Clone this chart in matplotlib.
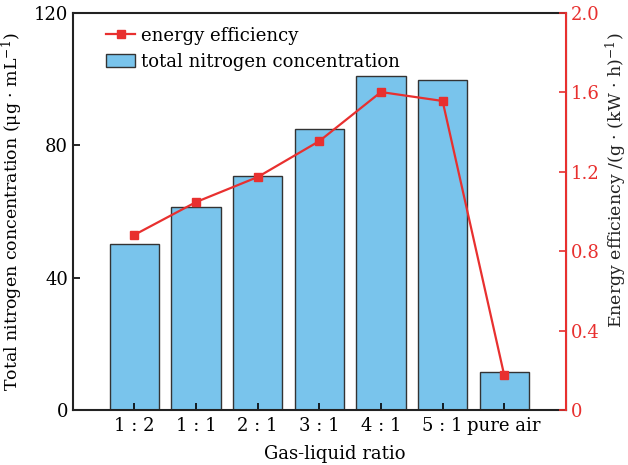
import matplotlib.pyplot as plt

plt.rcParams['font.family'] = ['DejaVu Serif', 'Noto Sans CJK SC']
plt.rcParams['mathtext.fontset'] = 'dejavuserif'

ratios = ['1 : 2', '1 : 1', '2 : 1', '3 : 1', '4 : 1', '5 : 1', 'pure air']
nitrogen = [50.1, 61.3, 70.9, 85.0, 101.1, 99.7, 11.4]
efficiency = [0.883, 1.048, 1.174, 1.355, 1.602, 1.557, 0.176]

red = '#e8302f'
blue = '#79c4ec'

fig, ax = plt.subplots(figsize=(6.28, 4.65), dpi=100)
fig.subplots_adjust(left=0.116, right=0.901, top=0.972, bottom=0.118)

x = range(len(ratios))
bars = ax.bar(x, nitrogen, width=0.8, color=blue, edgecolor='#333333', linewidth=1.0,
              label='total nitrogen concentration')
ax.set_xlim(-1, 7)
ax.set_ylim(0, 120)
ax.set_yticks([0, 40, 80, 120])
ax.set_xticks(list(x))
ax.set_xticklabels(ratios)
ax.tick_params(direction='in', labelsize=13, length=5, width=1.2)
ax.tick_params(axis='x', pad=5)
ax.set_xlabel('Gas-liquid ratio', fontsize=13)
ax.xaxis.set_label_coords(0.531, -0.088)
ax.set_ylabel(r'Total nitrogen concentration (μg · mL$^{-1}$)', fontsize=12.5)
ax.yaxis.set_label_coords(-0.098, 0.5)
for s in ['left', 'bottom', 'top']:
    ax.spines[s].set_linewidth(1.5)
    ax.spines[s].set_color('#222222')

ax2 = ax.twinx()
line, = ax2.plot(list(x), efficiency, color=red, marker='s', markersize=6, linewidth=1.6,
                 label='energy efficiency')
ax2.set_ylim(0, 2.0)
ax2.set_yticks([0, 0.4, 0.8, 1.2, 1.6, 2.0])
ax2.set_yticklabels(['0', '0.4', '0.8', '1.2', '1.6', '2.0'])
ax2.tick_params(direction='in', labelsize=13, length=5, width=1.2, colors=red)
ax2.spines['right'].set_color(red)
ax2.spines['right'].set_linewidth(1.5)
ax2.spines['top'].set_visible(False)
ax2.spines['left'].set_visible(False)
ax2.spines['bottom'].set_visible(False)
ax2.set_ylabel(r'Energy efficiency /(g · (kW · h)$^{-1}$)', fontsize=12.5, color='#222222')
ax2.yaxis.set_label_coords(1.078, 0.58)

ax2.legend([line, bars], ['energy efficiency', 'total nitrogen concentration'],
           loc='upper left', bbox_to_anchor=(0.04, 1.0), frameon=False, fontsize=13,
           handlelength=1.6, handletextpad=0.35, labelspacing=0.45, borderaxespad=0.35)

fig.savefig('out.png', dpi=100)
